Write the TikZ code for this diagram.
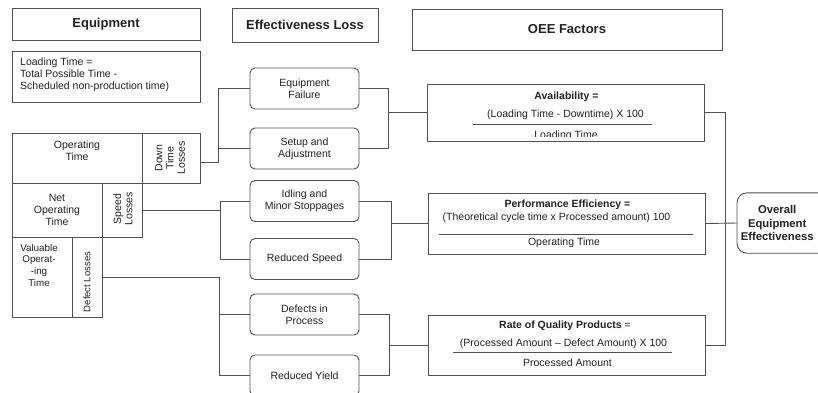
\documentclass[tikz,border=0pt]{standalone}
\usepackage{fontspec}
\setmainfont{Liberation Sans}
\usetikzlibrary{calc}
\definecolor{lc}{HTML}{505050}
\definecolor{tc}{HTML}{222222}
\begin{document}
\begin{tikzpicture}[x=1pt,y=-1pt,
  box/.style={draw=lc, line width=0.9pt, inner sep=0pt, text=tc, align=center,
              font=\fontsize{10.5}{11.8}\selectfont},
  ttl/.style={box, font=\fontsize{13}{15}\selectfont\bfseries},
  loss/.style={box, rounded corners=5pt, minimum width=109pt, minimum height=41pt},
  factor/.style={box, minimum width=277pt},
  txt/.style={inner sep=0pt, text=tc, align=center, font=\fontsize{10.5}{11.8}\selectfont},
  btxt/.style={txt, font=\fontsize{10.5}{11.8}\selectfont\bfseries},
  vtxt/.style={txt, rotate=90, font=\fontsize{10.5}{11.2}\selectfont},
  wire/.style={draw=lc, line width=0.9pt}]
\clip (0,0) rectangle (818,392);
\fill[white] (0,0) rectangle (818,392);

% titles
\node[ttl, minimum width=188pt, minimum height=32pt] (teq) at (106,24) {Equipment};
\node[ttl, minimum width=146pt, minimum height=34pt] (tel) at (305,25) {Effectiveness Loss};
\node[ttl, minimum width=310pt, minimum height=41pt] (toee) at (567,29.5) {OEE Factors};

% loading time
\node[box, minimum width=188pt, minimum height=51pt] (ld) at (106,76.5) {};
\node[txt, align=left, anchor=north west] (ldt) at (20,58) {Loading Time =\\Total Possible Time -\\Scheduled non-production time)};

% equipment table
\node[box, minimum width=130pt, minimum height=50pt] (ot) at (77,158) {};
\node[txt, anchor=north] (ott) at (77,141) {Operating\\Time};
\node[box, minimum width=58pt, minimum height=50pt] (dtl) at (171,158) {};
\node[vtxt] (dtlt) at (170,158) {Down\\Time\\Losses};
\node[box, minimum width=90pt, minimum height=54pt] (not) at (57,210) {Net\\Operating\\Time};
\node[box, minimum width=40pt, minimum height=54pt] (sl) at (122,210) {};
\node[vtxt] (slt) at (123,209) {Speed\\Losses};
\node[box, minimum width=60pt, minimum height=80pt] (vot) at (42,277) {};
\node[txt, anchor=north, font=\fontsize{9.8}{11.6}\selectfont] (vott) at (39,244) {Valuable\\Operat-\\-ing\\Time};
\node[box, minimum width=30pt, minimum height=80pt] (dl) at (87,277) {};
\node[vtxt, font=\fontsize{9.5}{11}\selectfont] (dlt) at (87,282) {Defect Losses};

% loss boxes
\node[loss] (ef) at (304.5,88.5) {Equipment\\Failure};
\node[loss] (sa) at (304.5,148.5) {Setup and\\Adjustment};
\node[loss] (im) at (304.5,201) {Idling and\\Minor Stoppages};
\node[loss] (rs) at (304.5,259) {Reduced Speed};
\node[loss] (dp) at (304.5,314.5) {Defects in\\Process};
\node[loss] (ry) at (304.5,375.5) {Reduced Yield};

% factor boxes
\node[factor, minimum height=57pt] (av) at (566,112.5) {};
\node[btxt] (avh) at (566.5,97) {Availability =};
\node[txt] (avn) at (565.5,115) {(Loading Time - Downtime) X 100};
\draw[wire] (473,124) -- (652,124);
\begin{scope}
  \clip (427,84) rectangle (705,136.5);
  \node[txt, anchor=base] (avd) at (566,138.5) {Loading Time};
\end{scope}

\node[factor, minimum height=61pt] (pe) at (566.5,223.5) {};
\node[btxt] (peh) at (567.5,205) {Performance Efficiency =};
\node[txt] (pen) at (556.5,218) {(Theoretical cycle time x Processed amount) 100};
\draw[wire] (439,234) -- (693,234);
\node[txt] (ped) at (564,243) {Operating Time};

\node[factor, minimum height=60pt] (rq) at (566.5,345) {};
\node[txt] (rqh) at (565,326) {\textbf{Rate of Quality Products} =};
\node[txt] (rqn) at (563.5,344) {(Processed Amount -- Defect Amount) X 100};
\draw[wire] (453,352) -- (672,352);
\node[txt] (rqd) at (567.5,363) {Processed Amount};

% overall
\node[inner sep=0pt, anchor=west, minimum width=80pt, minimum height=60pt, text=tc, align=center,
      font=\fontsize{11.3}{13.5}\selectfont\bfseries] (oe) at (737,223) {Overall\\Equipment\\Effectiveness};
\draw[wire, rounded corners=10pt] (oe.north west) rectangle ([xshift=30pt]oe.south east);

% junction columns
\coordinate (xl1) at (218,0);
\coordinate (xl2) at (220,0);
\coordinate (xl3) at (219,0);
\coordinate (xr1) at (388,0);
\coordinate (xr2) at (391,0);
\coordinate (xr3) at (389,0);
\coordinate (xo) at (725,0);
\coordinate (dtp) at ([yshift=-4pt]dtl.east);

% left wires
\draw[wire] (ef.west) -| (xl1 |- dtp) -- (dtp);
\draw[wire] (sa.west) -- (xl1 |- sa.west);
\draw[wire] (im.west) -| (xl2 |- rs.west) -- (rs.west);
\draw[wire] (sl.east) -- (xl2 |- sl.east);
\draw[wire] (dl.east) -| (xl3 |- ry.west) -- (ry.west);
\draw[wire] (dp.west) -- (xl3 |- dp.west);

% right wires
\draw[wire] (ef.east) -| (xr1 |- sa.east) -- (sa.east);
\draw[wire] (xr1 |- av.west) -- (av.west);
\draw[wire] (im.east) -| (xr2 |- rs.east) -- (rs.east);
\draw[wire] (xr2 |- pe.west) -- (pe.west);
\draw[wire] (dp.east) -| (xr3 |- ry.east) -- (ry.east);
\draw[wire] (xr3 |- rq.west) -- (rq.west);
\draw[wire] (av.east) -| (xo |- rq.east) -- (rq.east);
\draw[wire] (pe.east) -- (oe.west);
\end{tikzpicture}
\end{document}
